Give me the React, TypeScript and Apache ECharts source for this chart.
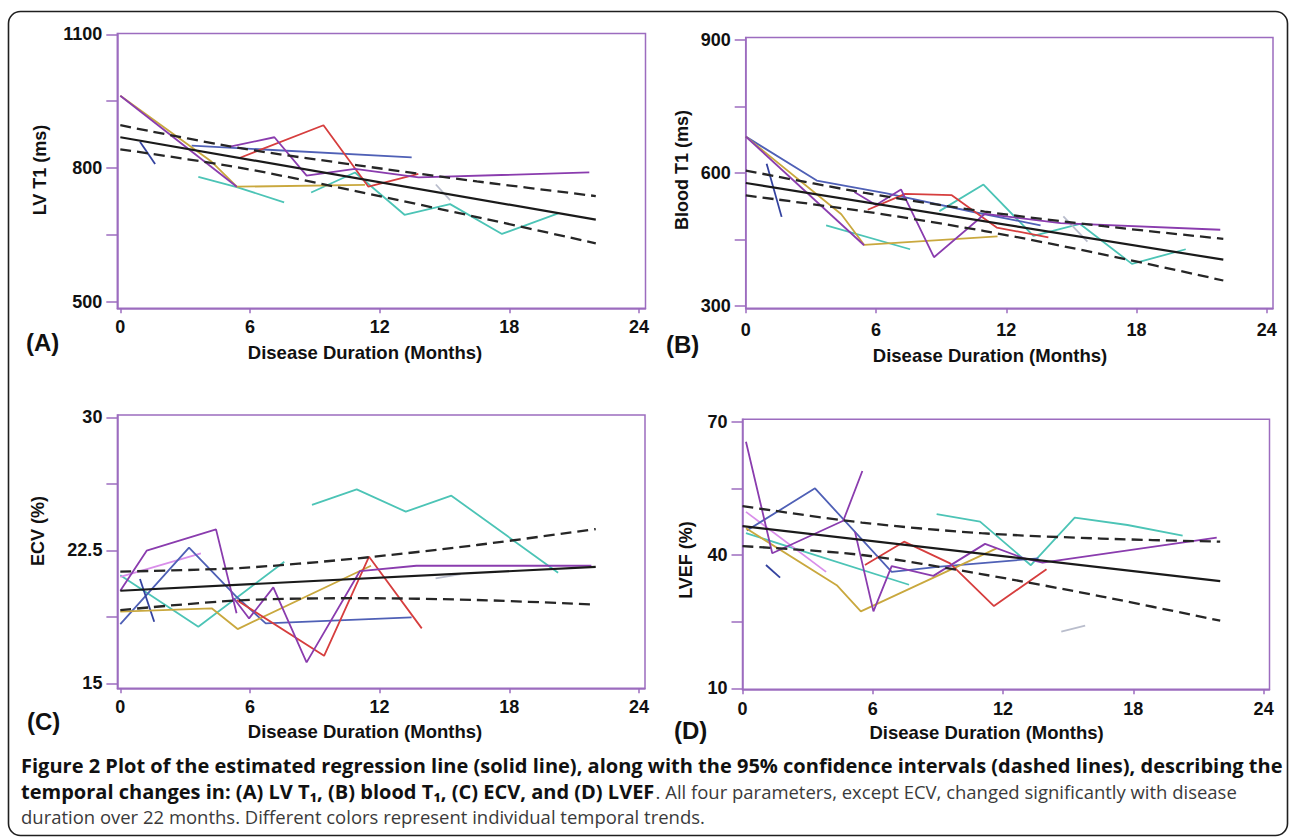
import React, { useEffect, useRef } from "react";
import * as echarts from "echarts";

type Pt = [number, number];

// ---------- colours ----------
const BOX = "#9c6cbf";
const PURPLE = "#8a3cae";
const BLUE = "#4f60b6";
const DARKBLUE = "#33429f";
const RED = "#d63e3e";
const CYAN = "#4cc4b6";
const GOLD = "#c9a83e";
const PINK = "#d98eea";
const GRAY = "#b9bdcc";

// ---------- shared tick values ----------
const xTicks = [0, 6, 12, 18, 24];

// ---------- (A) LV T1 ----------
const aYLabels = [500, 800, 1100];
const aYTicks = [500, 650, 800, 950, 1100];
const aPurple1: Pt[] = [[0, 962], [5.39, 758]];
const aPurple2: Pt[] = [[5.08, 848], [7.13, 869], [8.62, 783], [10.86, 798], [13.8, 779], [21.7, 790]];
const aGold: Pt[] = [[0, 962], [4.23, 814], [5.39, 758], [11.32, 762]];
const aBlue: Pt[] = [[3.3, 850], [13.48, 824]];
const aDarkBlue: Pt[] = [[0.91, 859], [1.61, 809]];
const aRed: Pt[] = [[5.54, 823], [9.4, 896], [11.48, 758], [13.79, 787]];
const aCyan1: Pt[] = [[3.61, 780], [5.39, 757], [7.58, 723]];
const aCyan2: Pt[] = [[8.83, 745], [10.86, 790], [13.15, 695], [15.26, 719], [17.66, 652], [20.26, 698]];
const aGray: Pt[] = [[14.6, 763], [15.26, 728]];
const aFit: Pt[] = [[0, 869], [22, 684]];
const aUpper: Pt[] = [[0, 896], [5.5, 845], [11, 806], [16.5, 770], [22, 737]];
const aLower: Pt[] = [[0, 842], [5.5, 801], [11, 747], [16.5, 690], [22, 631]];

// ---------- (B) Blood T1 ----------
const bYLabels = [300, 600, 900];
const bYTicks = [300, 450, 600, 750, 900];
const bBlue: Pt[] = [[0, 682], [3.27, 583], [6.49, 554], [10.49, 512], [13.58, 482]];
const bGold: Pt[] = [[0, 682], [4.4, 507], [5.45, 438], [11.6, 457]];
const bPurple1: Pt[] = [[0, 682], [5.45, 437]];
const bPurple2: Pt[] = [[5.0, 557], [6.0, 528], [7.15, 563], [8.67, 410], [11.02, 508], [14.5, 487], [21.86, 472]];
const bRed: Pt[] = [[5.62, 517], [7.34, 553], [9.49, 550], [11.56, 477], [13.94, 455]];
const bCyan1: Pt[] = [[3.7, 482], [7.57, 428]];
const bCyan2: Pt[] = [[8.92, 514], [10.95, 574], [13.25, 458], [15.4, 485], [17.79, 395], [20.27, 428]];
const bDarkBlue: Pt[] = [[0.96, 621], [1.65, 501]];
const bGray: Pt[] = [[14.63, 502], [15.74, 445]];
const bFit: Pt[] = [[0, 577.5], [22, 404.5]];
const bUpper: Pt[] = [[0, 605.5], [5.5, 555], [11, 513], [16.5, 480], [22, 451.5]];
const bLower: Pt[] = [[0, 549.5], [5.5, 513], [11, 469], [16.5, 416], [22, 357.5]];

// ---------- (C) ECV ----------
const cYLabels = [15, 22.5, 30];
const cYTicks = [15, 18.75, 22.5, 26.25, 30];
const cPurple1: Pt[] = [[0, 20.22], [1.22, 22.48], [4.43, 23.68], [5.38, 18.95]];
const cPurple2: Pt[] = [[5.25, 19.8], [5.96, 18.66], [7.08, 20.41], [8.62, 16.18], [11.09, 21.33], [13.7, 21.63], [21.8, 21.63]];
const cBlue: Pt[] = [[0, 18.34], [3.18, 22.65], [5.38, 19.88], [6.73, 18.38], [13.48, 18.72]];
const cDarkBlue: Pt[] = [[0.91, 20.88], [1.57, 18.47]];
const cPink: Pt[] = [[0, 21.0], [3.73, 22.33]];
const cCyan1: Pt[] = [[0, 21.1], [3.61, 18.19], [7.59, 21.86]];
const cCyan2: Pt[] = [[8.87, 25.06], [10.94, 25.94], [13.21, 24.68], [15.32, 25.58], [20.26, 21.24]];
const cGold: Pt[] = [[0, 19.04], [4.23, 19.23], [5.43, 18.06], [11.6, 21.63]];
const cRed: Pt[] = [[5.38, 19.7], [9.43, 16.55], [11.51, 22.14], [13.95, 18.1]];
const cGray: Pt[] = [[14.59, 20.92], [15.75, 21.16]];
const cFit: Pt[] = [[0, 20.22], [22, 21.57]];
const cUpper: Pt[] = [[0, 21.3], [5.5, 21.5], [11, 22.05], [16.5, 22.8], [22, 23.7]];
const cLower: Pt[] = [[0, 19.13], [5.5, 19.68], [11, 19.8], [16.5, 19.7], [22, 19.44]];

// ---------- (D) LVEF ----------
const dYLabels = [10, 40, 70];
const dYTicks = [10, 25, 40, 55, 70];
const dPurple1: Pt[] = [[0.16, 65.5], [1.37, 40.4], [4.64, 47.7], [5.52, 58.9]];
const dPurple2: Pt[] = [[5.18, 45.2], [6.03, 27.3], [6.87, 37.5], [8.79, 35.3], [11.17, 42.5], [12.93, 39.3], [13.82, 38.3], [21.84, 43.9]];
const dBlue: Pt[] = [[0.2, 45.5], [3.34, 55], [6.87, 36.2], [9.1, 37.4], [13.63, 39.25]];
const dPink: Pt[] = [[0.16, 49.7], [3.85, 36.2]];
const dCyan1: Pt[] = [[0.16, 44.9], [7.67, 33.3]];
const dGold: Pt[] = [[0.16, 46], [4.34, 33.2], [5.45, 27.3], [11.7, 41.5]];
const dDarkBlue: Pt[] = [[1.08, 37.75], [1.73, 34.9]];
const dRed: Pt[] = [[5.64, 37.75], [7.44, 43.0], [9.56, 38.1], [11.58, 28.5], [14.0, 36.8]];
const dCyan2: Pt[] = [[8.94, 49.2], [10.94, 47.5], [13.28, 37.7], [15.3, 48.4], [17.73, 46.75], [20.27, 44.35]];
const dGray: Pt[] = [[14.68, 22.75], [15.78, 24.1]];
const dFit: Pt[] = [[0, 46.5], [22, 34.1]];
const dUpper: Pt[] = [[0, 51.0], [5.5, 47.3], [11, 44.9], [16.5, 43.7], [22, 43.0]];
const dLower: Pt[] = [[0, 42.0], [5.5, 40.0], [11, 35.7], [16.5, 30.7], [22, 25.2]];

// ---------- texts ----------
const yNames = ["LV T1 (ms)", "Blood T1 (ms)", "ECV (%)", "LVEF (%)"];
const xName = "Disease Duration (Months)";
const panelLetters = ["(A)", "(B)", "(C)", "(D)"];
const captionLine1 =
  "Figure 2 Plot of the estimated regression line (solid line), along with the 95% confidence intervals (dashed lines), describing the";
const captionLine2Bold = "temporal changes in: (A) LV T\u2081, (B) blood T\u2081, (C) ECV, and (D) LVEF";
const captionLine2Rest = ". All four parameters, except ECV, changed significantly with disease";
const captionLine3 = "duration over 22 months. Different colors represent individual temporal trends.";

const FONT = "'Liberation Sans', Arial, Helvetica, sans-serif";
const CAP_FONT = "'Open Sans', 'Noto Sans', 'DejaVu Sans', sans-serif";

interface PanelGeo {
  left: number; top: number; width: number; height: number;
  xMin: number; xMax: number; yMin: number; yMax: number;
  xLabelMargin: number;
}

const panels: PanelGeo[] = [
  { left: 117.3, top: 33.5, width: 528.2, height: 274.8, xMin: -0.139, xMax: 24.3, yMin: 485.2, yMax: 1101.8, xLabelMargin: 10 },
  { left: 745.7, top: 37.5, width: 527.3, height: 270.8, xMin: -0.005, xMax: 24.29, yMin: 294.8, yMax: 905.6, xLabelMargin: 13 },
  { left: 117.4, top: 415, width: 527.6, height: 273.3, xMin: -0.134, xMax: 24.28, yMin: 14.72, yMax: 30.13, xLabelMargin: 10 },
  { left: 742.5, top: 419.3, width: 527, height: 270, xMin: 0, xMax: 24.27, yMin: 9.77, yMax: 70.54, xLabelMargin: 11 },
];

const yLabelSets = [aYLabels, bYLabels, cYLabels, dYLabels];
const yTickSets = [aYTicks, bYTicks, cYTicks, dYTicks];

const panelSeries: { data: Pt[]; color: string }[][] = [
  [
    { data: aCyan1, color: CYAN }, { data: aCyan2, color: CYAN }, { data: aGray, color: GRAY },
    { data: aBlue, color: BLUE }, { data: aDarkBlue, color: DARKBLUE }, { data: aGold, color: GOLD },
    { data: aRed, color: RED }, { data: aPurple1, color: PURPLE }, { data: aPurple2, color: PURPLE },
  ],
  [
    { data: bCyan1, color: CYAN }, { data: bCyan2, color: CYAN }, { data: bGray, color: GRAY },
    { data: bBlue, color: BLUE }, { data: bDarkBlue, color: DARKBLUE }, { data: bGold, color: GOLD },
    { data: bRed, color: RED }, { data: bPurple1, color: PURPLE }, { data: bPurple2, color: PURPLE },
  ],
  [
    { data: cCyan1, color: CYAN }, { data: cCyan2, color: CYAN }, { data: cGray, color: GRAY },
    { data: cPink, color: PINK }, { data: cBlue, color: BLUE }, { data: cDarkBlue, color: DARKBLUE },
    { data: cGold, color: GOLD }, { data: cRed, color: RED }, { data: cPurple1, color: PURPLE },
    { data: cPurple2, color: PURPLE },
  ],
  [
    { data: dCyan1, color: CYAN }, { data: dCyan2, color: CYAN }, { data: dGray, color: GRAY },
    { data: dPink, color: PINK }, { data: dBlue, color: BLUE }, { data: dDarkBlue, color: DARKBLUE },
    { data: dGold, color: GOLD }, { data: dRed, color: RED }, { data: dPurple1, color: PURPLE },
    { data: dPurple2, color: PURPLE },
  ],
];
const fitSets = [aFit, bFit, cFit, dFit];
const upperSets = [aUpper, bUpper, cUpper, dUpper];
const lowerSets = [aLower, bLower, cLower, dLower];

// text placement (pixel positions of labels)
const yNamePos: Pt[] = [[40, 170], [681.5, 170], [38, 531], [685.6, 560]];
const xNamePos: Pt[] = [[365, 352], [990, 355], [365, 731.7], [986.6, 732.7]];
const letterPos: Pt[] = [[26, 342], [666, 344], [27, 721], [674, 730]];

// measure a string exactly as an SVG <text> would draw it
function measureSvg(text: string, size: number, weight: string, family: string): number {
  try {
    const NS = "http://www.w3.org/2000/svg";
    const svg = document.createElementNS(NS, "svg");
    svg.setAttribute("width", "2000");
    svg.setAttribute("height", "100");
    svg.style.position = "absolute";
    svg.style.left = "0";
    svg.style.top = "0";
    svg.style.visibility = "hidden";
    const t = document.createElementNS(NS, "text");
    t.setAttribute("x", "0");
    t.setAttribute("y", "50");
    t.setAttribute("style", `font-family:${family};font-size:${size}px;font-weight:${weight};white-space:pre`);
    t.textContent = text;
    svg.appendChild(t);
    document.body.appendChild(svg);
    const w = (t as SVGTextElement).getComputedTextLength();
    document.body.removeChild(svg);
    return w;
  } catch (e) {
    return 0;
  }
}

export default function App() {
  const ref = useRef<HTMLDivElement>(null);

  useEffect(() => {
    document.body.style.margin = "0";
    if (!ref.current) return;
    const chart = echarts.init(ref.current, undefined, { renderer: "svg" });

    const grid = panels.map((p) => ({
      left: p.left, top: p.top, width: p.width, height: p.height,
      containLabel: false, outerBoundsMode: "none",
      show: true, borderColor: BOX, borderWidth: 1.5, backgroundColor: "transparent",
    }));

    const xAxis = panels.map((p, i) => ({
      type: "value", gridIndex: i, min: p.xMin, max: p.xMax,
      axisLine: { show: true, onZero: false, lineStyle: { color: BOX, width: 1.5 } },
      axisTick: { show: true, length: 5, customValues: xTicks, lineStyle: { color: BOX, width: 1.5 } },
      axisLabel: {
        customValues: xTicks, margin: p.xLabelMargin, fontSize: 18, fontWeight: "bold",
        color: "#111", fontFamily: FONT, formatter: (v: number) => String(v),
      },
      splitLine: { show: false },
    }));

    const yAxis = panels.map((p, i) => ({
      type: "value", gridIndex: i, min: p.yMin, max: p.yMax,
      axisLine: { show: true, onZero: false, lineStyle: { color: BOX, width: 1.5 } },
      axisTick: { show: true, length: 11, customValues: yTickSets[i], lineStyle: { color: BOX, width: 1.5 } },
      axisLabel: {
        customValues: yLabelSets[i], margin: 15, fontSize: 18, fontWeight: "bold",
        color: "#111", fontFamily: FONT, formatter: (v: number) => String(v),
      },
      splitLine: { show: false },
    }));

    const series: any[] = [];
    panelSeries.forEach((list, i) => {
      list.forEach((s) => {
        series.push({
          type: "line", xAxisIndex: i, yAxisIndex: i, data: s.data, symbol: "none",
          silent: true, lineStyle: { color: s.color, width: 1.8 },
        });
      });
      series.push({
        type: "line", xAxisIndex: i, yAxisIndex: i, data: upperSets[i], symbol: "none", smooth: 0.3,
        silent: true, lineStyle: { color: "#262626", width: 2.3, type: [11, 6] },
      });
      series.push({
        type: "line", xAxisIndex: i, yAxisIndex: i, data: lowerSets[i], symbol: "none", smooth: 0.3,
        silent: true, lineStyle: { color: "#262626", width: 2.3, type: [11, 6] },
      });
      series.push({
        type: "line", xAxisIndex: i, yAxisIndex: i, data: fitSets[i], symbol: "none",
        silent: true, lineStyle: { color: "#1a1a1a", width: 2.2 },
      });
    });

    // caption sizing from widths measured in the page
    const w1 = measureSvg(captionLine1, 100, "bold", CAP_FONT);
    const w2b = measureSvg(captionLine2Bold, 100, "bold", CAP_FONT);
    const w3 = measureSvg(captionLine3, 100, "normal", CAP_FONT);
    const fsB = w1 > 0 ? (100 * 1262) / w1 : 17;
    const fsR = w3 > 0 ? (100 * 684) / w3 : 16;
    const restX = 21 + (w2b > 0 ? (w2b * fsB) / 100 + 1 : 610);

    const capX = 21;
    const graphic: any[] = [
      {
        type: "rect", silent: true,
        shape: { x: 8.5, y: 11.5, width: 1279, height: 824, r: 12 },
        style: { fill: "none", stroke: "#1f1f1f", lineWidth: 1.6 },
      },
    ];
    for (let i = 0; i < 4; i++) {
      graphic.push({
        type: "text", x: yNamePos[i][0], y: yNamePos[i][1], rotation: Math.PI / 2, silent: true,
        style: {
          text: yNames[i], fontSize: 18, fontWeight: "bold", fontFamily: FONT, fill: "#111",
          align: "center", verticalAlign: "middle",
        },
      });
      graphic.push({
        type: "text", x: xNamePos[i][0], y: xNamePos[i][1], silent: true,
        style: {
          text: xName, fontSize: 18.5, fontWeight: "bold", fontFamily: FONT, fill: "#111",
          align: "center", verticalAlign: "middle",
        },
      });
      graphic.push({
        type: "text", x: letterPos[i][0], y: letterPos[i][1], silent: true,
        style: {
          text: panelLetters[i], fontSize: 24, fontWeight: "bold", fontFamily: FONT, fill: "#111",
          align: "left", verticalAlign: "middle",
        },
      });
    }
    graphic.push({
      type: "text", x: capX, y: 765.5, silent: true,
      style: {
        text: captionLine1, fontSize: fsB, fontWeight: "bold", fontFamily: CAP_FONT, fill: "#111",
        align: "left", verticalAlign: "middle", lineHeight: fsB,
      },
    });
    graphic.push({
      type: "text", x: capX, y: 791, silent: true,
      style: {
        text: captionLine2Bold, fontSize: fsB, fontWeight: "bold", fontFamily: CAP_FONT, fill: "#111",
        align: "left", verticalAlign: "middle", lineHeight: fsB,
      },
    });
    graphic.push({
      type: "text", x: restX, y: 791, silent: true,
      style: {
        text: captionLine2Rest, fontSize: fsR, fontWeight: "normal", fontFamily: CAP_FONT, fill: "#3a3a3a",
        align: "left", verticalAlign: "middle", lineHeight: fsR,
      },
    });
    graphic.push({
      type: "text", x: capX, y: 816.5, silent: true,
      style: {
        text: captionLine3, fontSize: fsR, fontWeight: "normal", fontFamily: CAP_FONT, fill: "#3a3a3a",
        align: "left", verticalAlign: "middle", lineHeight: fsR,
      },
    });

    chart.setOption({
      animation: false,
      backgroundColor: "#ffffff",
      textStyle: { fontFamily: FONT },
      grid, xAxis, yAxis, series, graphic,
    });

    return () => chart.dispose();
  }, []);

  return <div ref={ref} style={{ width: 1290, height: 838 }} />;
}
